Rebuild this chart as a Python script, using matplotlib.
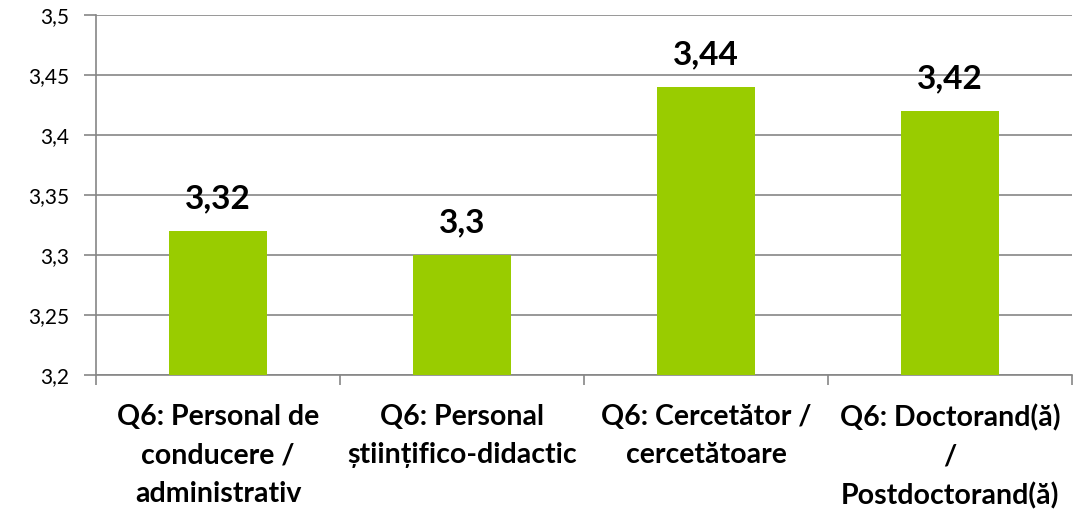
import matplotlib.pyplot as plt
import numpy as np

categories = ["Q6: Personal de\nconducere /\nadministrativ",
              "Q6: Personal\nștiințifico-didactic",
              "Q6: Cercetător /\ncercetătoare",
              "Q6: Doctorand(ă)\n/\nPostdoctorand(ă)"]
values = [3.32, 3.3, 3.44, 3.42]
value_labels = ["3,32", "3,3", "3,44", "3,42"]
yticks = [3.2, 3.25, 3.3, 3.35, 3.4, 3.45, 3.5]
ytick_labels = ["3,2", "3,25", "3,3", "3,35", "3,4", "3,45", "3,5"]

plt.rcParams['font.family'] = ['Lato', 'DejaVu Sans']

fig = plt.figure(figsize=(10.84, 5.09), dpi=100)
ax = fig.add_axes([96 / 1084, 1 - 375 / 509, 976 / 1084, 360 / 509])

x = np.arange(len(categories))
ax.bar(x, values, width=0.4, color="#99CC00", zorder=3)

for xi, v, lab in zip(x, values, value_labels):
    ax.text(xi, v + 0.019, lab, ha="center", va="baseline",
            fontsize=24, fontweight="bold", color="black")

ax.set_xlim(-0.5, 3.5)
ax.set_ylim(3.2, 3.5)
ax.set_yticks(yticks)
ax.set_yticklabels(ytick_labels, fontsize=15)
ax.yaxis.grid(True, color="#868686", linewidth=1.2, zorder=0)

ax.set_xticks([-0.5, 0.5, 1.5, 2.5, 3.5])
ax.set_xticklabels([])
ax.set_xticks(x, minor=True)
ax.set_xticklabels(categories, minor=True, fontsize=20.5, fontweight="bold", linespacing=1.58)
ax.tick_params(axis="x", which="minor", length=0, pad=21)
ax.tick_params(axis="x", which="major", length=7, color="#868686", width=1.2)
ax.tick_params(axis="y", length=9, color="#868686", width=1.2, pad=10)
for lab in ax.get_xticklabels(minor=True):
    lab.set_verticalalignment("top")

for side in ["top", "right"]:
    ax.spines[side].set_visible(False)
for side in ["left", "bottom"]:
    ax.spines[side].set_color("#868686")
    ax.spines[side].set_linewidth(1.2)

fig.savefig("out.png", dpi=100)
